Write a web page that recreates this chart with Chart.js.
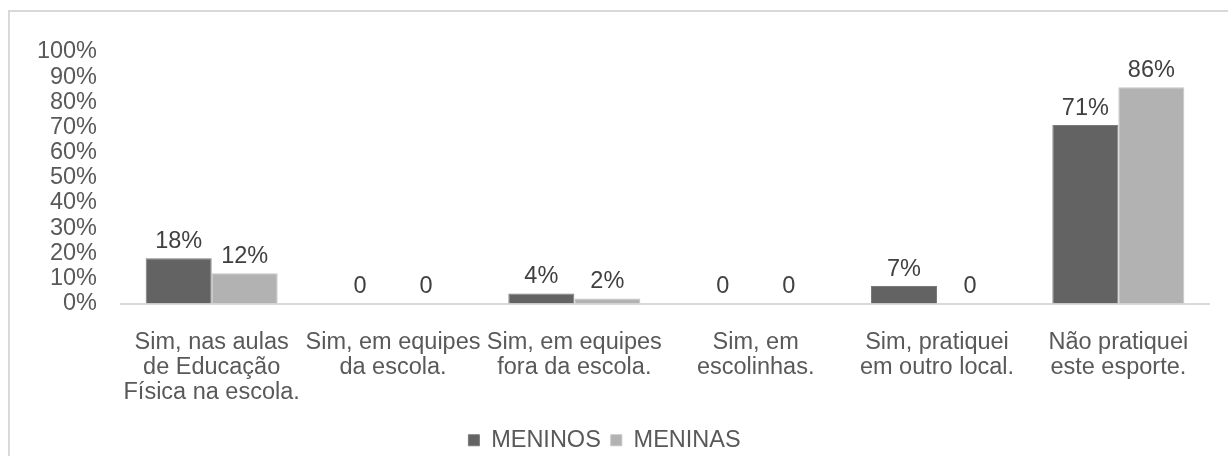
<!DOCTYPE html>
<html>
<head>
<meta charset="utf-8">
<script src="https://cdn.jsdelivr.net/npm/chart.js@4/dist/chart.umd.min.js"></script>
<style>
  html, body { margin: 0; padding: 0; background: #fff; overflow: hidden; }
  #frame {
    position: absolute; left: 8px; top: 10px; width: 1240px; height: 460px;
    border-left: 2px solid #d9d9d9; border-top: 2px solid #d9d9d9;
  }
  #wrap { position: absolute; left: 0; top: 0; width: 1228px; height: 456px; }
</style>
</head>
<body>
<div id="frame"></div>
<div id="wrap"><canvas id="sportChart"></canvas></div>
<script>
// data
const categories = [
    ['Sim, nas aulas', 'de Educação', 'Física na escola.'],
    ['Sim, em equipes', 'da escola.'],
    ['Sim, em equipes', 'fora da escola.'],
    ['Sim, em', 'escolinhas.'],
    ['Sim, pratiquei', 'em outro local.'],
    ['Não pratiquei', 'este esporte.']
];
const meninos = [18, 0, 4, 0, 7, 71];
const meninas = [12, 0, 2, 0, 0, 86];
const yTicks = [0, 10, 20, 30, 40, 50, 60, 70, 80, 90, 100];

const FONT = "'Liberation Sans', Arial, sans-serif";
const FSIZE = 23.5;
const textColor = '#595959';

// value labels above the bars
const barLabels = {
    id: 'barLabels',
    afterDatasetsDraw(chart) {
        const ctx = chart.ctx;
        ctx.save();
        ctx.font = FSIZE + 'px ' + FONT;
        ctx.fillStyle = '#404040';
        ctx.textAlign = 'center';
        ctx.textBaseline = 'bottom';
        chart.data.datasets.forEach((ds, i) => {
            chart.getDatasetMeta(i).data.forEach((bar, j) => {
                const v = ds.data[j];
                ctx.fillText(v === 0 ? '0' : v + '%', bar.x, bar.y - 5);
            });
        });
        ctx.restore();
    }
};

new Chart(document.getElementById('sportChart'), {
    type: 'bar',
    data: {
        labels: categories,
        datasets: [{
            label: 'MENINOS',
            data: meninos,
            backgroundColor: '#636363',
            borderColor: '#7a7a7a',
            borderWidth: 1,
            categoryPercentage: 0.728,
            barPercentage: 1
        }, {
            label: 'MENINAS',
            data: meninas,
            backgroundColor: '#b2b2b2',
            borderColor: '#c4c4c4',
            borderWidth: 1,
            categoryPercentage: 0.728,
            barPercentage: 1
        }]
    },
    options: {
        responsive: true,
        maintainAspectRatio: false,
        animation: false,
        layout: { padding: { top: 52, right: 19, left: 0, bottom: -6 } },
        plugins: {
            tooltip: { enabled: false },
            legend: {
                position: 'bottom',
                labels: {
                    color: textColor,
                    font: { family: FONT, size: FSIZE },
                    boxWidth: 11,
                    boxHeight: 11,
                    padding: 10
                }
            }
        },
        scales: {
            x: {
                grid: { display: false, drawTicks: false },
                border: { display: true, color: '#d9d9d9', width: 2 },
                ticks: {
                    color: textColor,
                    font: { family: FONT, size: FSIZE, lineHeight: 1.05 },
                    maxRotation: 0,
                    autoSkip: false,
                    padding: 27
                },
                afterFit(scale) { scale.height = 115; }
            },
            y: {
                min: 0,
                max: 100,
                grid: { display: false, drawTicks: false },
                border: { display: false },
                afterBuildTicks(scale) { scale.ticks = yTicks.map(v => ({ value: v })); },
                ticks: {
                    color: textColor,
                    font: { family: FONT, size: FSIZE, lineHeight: 1 },
                    autoSkip: false,
                    padding: 24,
                    callback: v => v + '%'
                },
                afterFit(scale) { scale.width = 121; }
            }
        }
    },
    plugins: [barLabels]
});
</script>
</body>
</html>
